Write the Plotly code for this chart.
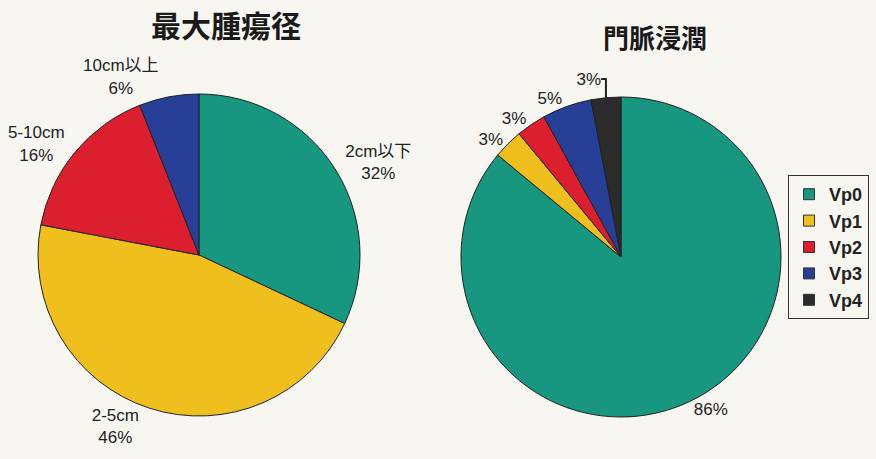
import plotly.graph_objects as go

# ---- data ----
size_labels = ["2cm以下", "2-5cm", "5-10cm", "10cm以上"]
size_values = [32, 46, 16, 6]
size_title = "最大腫瘍径"

vp_labels = ["Vp0", "Vp1", "Vp2", "Vp3", "Vp4"]
vp_values = [86, 3, 3, 5, 3]
vp_title = "門脈浸潤"

size_colors = ["#17977f", "#efbf1d", "#dc1f2e", "#283f97"]
vp_colors = ["#17977f", "#efbf1d", "#dc1f2e", "#283f97", "#2b2b2b"]

FONT = "Liberation Sans, Arial, Noto Sans CJK JP, sans-serif"
TFONT = "Noto Sans CJK JP, sans-serif"
W, H = 876, 459

fig = go.Figure()

fig.add_trace(go.Pie(
    labels=size_labels, values=size_values, sort=False, direction="clockwise",
    rotation=0, marker=dict(colors=size_colors, line=dict(color="#222222", width=1)),
    texttemplate="%{label}<br>%{percent:.0%}", textposition="outside",
    textfont=dict(family=FONT, size=17, color="#222222"),
    domain=dict(x=[38 / W, 360 / W], y=[1 - 416 / H, 1 - 94 / H]),
    showlegend=False, hoverinfo="label+percent",
))

fig.add_trace(go.Pie(
    labels=vp_labels, values=vp_values, sort=False, direction="clockwise",
    rotation=0, marker=dict(colors=vp_colors, line=dict(color="#222222", width=1)),
    texttemplate="%{percent:.0%}", textposition="outside",
    textfont=dict(family=FONT, size=17, color="#222222"),
    domain=dict(x=[461 / W, 781 / W], y=[1 - 418 / H, 1 - 96 / H]),
    showlegend=False, hoverinfo="label+percent",
))

# legend entries (one per Vp category)
for lab, col in zip(vp_labels, vp_colors):
    fig.add_trace(go.Scatter(
        x=[None], y=[None], mode="markers", name="<b>" + lab + "</b>", legendgroup=lab,
        marker=dict(symbol="square", size=11, color=col, line=dict(color="#333333", width=1)),
        showlegend=True,
    ))

fig.update_layout(
    width=W, height=H,
    margin=dict(l=0, r=0, t=0, b=0, autoexpand=False),
    paper_bgcolor="#f7f6f1", plot_bgcolor="#f7f6f1",
    xaxis=dict(visible=False), yaxis=dict(visible=False),
    legend=dict(
        x=788 / W, y=1 - 175 / H, xanchor="left", yanchor="top",
        bordercolor="#333333", borderwidth=1, bgcolor="rgba(0,0,0,0)",
        font=dict(family=FONT, size=18, color="#222222"),
        tracegroupgap=0, itemwidth=30,
    ),
    annotations=[
        dict(text="<b>" + size_title + "</b>", x=226 / W, y=1 - 24 / H,
             xref="paper", yref="paper", xanchor="center", yanchor="middle",
             showarrow=False,
             font=dict(family=TFONT, size=30, color="#1a1a1a")),
        dict(text="<b>" + vp_title + "</b>", x=655 / W, y=1 - 37 / H,
             xref="paper", yref="paper", xanchor="center", yanchor="middle",
             showarrow=False,
             font=dict(family=TFONT, size=26, color="#1a1a1a")),
    ],
)

fig.write_html("out.html", config={"displayModeBar": False},
               post_script="document.body.style.margin='0';")
